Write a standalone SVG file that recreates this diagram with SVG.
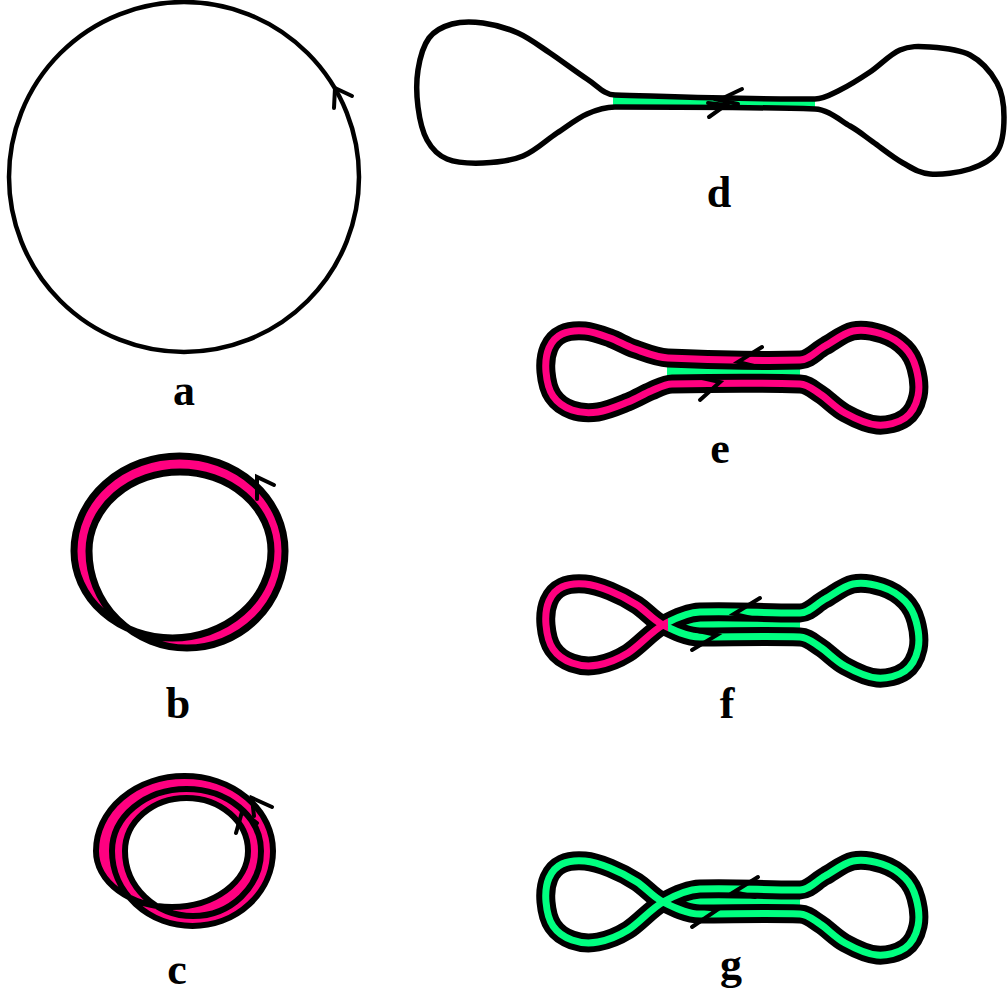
<svg xmlns="http://www.w3.org/2000/svg" xmlns:xlink="http://www.w3.org/1999/xlink" width="1008" height="998" viewBox="0 0 1008 998">
<style>
.ln{fill:none;stroke:#000;stroke-linejoin:round;stroke-linecap:round}
.arr{fill:none;stroke:#000;stroke-width:4;stroke-linejoin:miter;stroke-linecap:round}
.lbl{font-family:"Liberation Serif","Times New Roman",serif;font-weight:bold;font-size:44px;text-anchor:middle;fill:#000}
.pk{fill:#FF0080}
.gr{fill:#00FF80}
.bk{fill:none;stroke:#000;stroke-width:19;stroke-linejoin:round}
.bp{fill:none;stroke:#FF0080;stroke-width:7;stroke-linejoin:round}
.bg{fill:none;stroke:#00FF80;stroke-width:7;stroke-linejoin:round}
</style>
<defs>
<path id="eShape" d="M800,360 C756,361.3 712,359.8 668,358 C656.6,357.5 644.7,352.3 635,349 C625.3,345.7 618.3,341 610,338 C601.7,335 593,331.7 585,331 C577,330.3 568,331.2 562,334 C556,336.8 551.7,341.7 549,348 C546.3,354.3 545.3,364 546,372 C546.7,380 548.7,389.7 553,396 C557.3,402.3 564.5,407.3 572,410 C579.5,412.7 588.7,413.3 598,412 C607.3,410.7 619.2,405.5 628,402 C636.8,398.5 643.7,394 651,391 C658.3,388 664.7,384.1 672,384 C714.7,383.1 757.3,382.7 800,384 C807.5,384.2 812.5,389.2 820,394 C827.5,398.8 835.5,407.8 845,413 C854.5,418.2 867,424.2 877,425 C887,425.8 898.2,422.8 905,418 C911.8,413.2 916.2,404.3 918,396 C919.8,387.7 918.2,376 916,368 C913.8,360 910.7,353.7 905,348 C899.3,342.3 890.7,336.8 882,334 C873.3,331.2 862.5,329 853,331 C843.5,333 833.8,341.2 825,346 C816.2,350.8 809.6,359.7 800,360 Z"/>
<path id="fgShape" d="M800,360 C767,360.3 733,357.7 700,359 C687,359.5 675,365.2 663,372 C651,378.8 638.8,393.3 628,400 C617.2,406.7 607.3,410.3 598,412 C588.7,413.7 579.5,412.7 572,410 C564.5,407.3 557.3,402.3 553,396 C548.7,389.7 546.7,380 546,372 C545.3,364 546.3,354.3 549,348 C551.7,341.7 556,336.8 562,334 C568,331.2 577,330.3 585,331 C593,331.7 601.3,334.5 610,338 C618.7,341.5 628.2,346.3 637,352 C645.8,357.7 652.5,366.7 663,372 C673.5,377.3 687,384 700,384 C733,384 767,383 800,384 C807.5,384.2 812.5,389.2 820,394 C827.5,398.8 835.5,407.8 845,413 C854.5,418.2 867,424.2 877,425 C887,425.8 898.2,422.8 905,418 C911.8,413.2 916.2,404.3 918,396 C919.8,387.7 918.2,376 916,368 C913.8,360 910.7,353.7 905,348 C899.3,342.3 890.7,336.8 882,334 C873.3,331.2 862.5,329 853,331 C843.5,333 833.8,341.2 825,346 C816.2,350.8 809.6,359.7 800,360 Z"/>
<clipPath id="clipL" clipPathUnits="userSpaceOnUse"><rect x="0" y="0" width="668" height="998"/></clipPath>
<clipPath id="clipR" clipPathUnits="userSpaceOnUse"><rect x="668" y="0" width="340" height="998"/></clipPath>
</defs>

<g id="fig-a">
<circle cx="184" cy="177" r="175" class="ln" stroke-width="4.5"/>
<path class="arr" d="M352,96 L335,88 L334,108"/>
<text class="lbl" x="184" y="405">a</text>
</g>

<g id="fig-b">
<path class="pk" fill-rule="evenodd" d="M74,551 A105.5 95 0 0 1 285,551 A98 97 0 0 1 89,551 A91 79 0 0 1 271,551 A98.5 87 0 0 1 74,551 Z"/>
<path class="ln" stroke-width="7" d="M74,551 A105.5 95 0 0 1 285,551 A98 97 0 0 1 89,551 A91 79 0 0 1 271,551 A98.5 87 0 0 1 74,551 Z"/>
<path class="arr" d="M274,485 L257,477 L257,499"/>
<text class="lbl" x="178" y="718">b</text>
</g>

<g id="fig-c">
<path class="pk" d="M96,851 A88.5 75 0 0 1 273,851 A80.5 75 0 0 1 112,851 A74.5 62 0 0 1 261,851 A68 65 0 0 1 125,851 A61.5 53 0 0 1 248,851 A76 56 0 0 1 96,851 Z"/>
<path fill="#fff" d="M125,851 A61.5 53 0 0 1 248,851 A76 56 0 0 1 155,905.4 A68 65 0 0 1 125,851 Z"/>
<path class="ln" stroke-width="6" d="M96,851 A88.5 75 0 0 1 273,851 A80.5 75 0 0 1 112,851 A74.5 62 0 0 1 261,851 A68 65 0 0 1 125,851 A61.5 53 0 0 1 248,851 A76 56 0 0 1 96,851 Z"/>
<path class="arr" d="M272,807 L252,798 L254,816"/>
<path class="arr" d="M257,823 L242,812 L236,833"/>
<text class="lbl" x="177" y="984">c</text>
</g>

<g id="fig-d">
<polygon class="gr" points="613,95 815,99 815,109 613,107"/>
<path class="ln" stroke-width="5.5" d="M815,99 C748,99.7 682,97 615,95 C604.3,94.7 597.8,86 587,79 C576.2,72 561.5,60.7 550,53 C538.5,45.3 529.2,38 518,33 C506.8,28 494,24.5 483,23 C472,21.5 461,21.5 452,24 C443,26.5 434.7,30.3 429,38 C423.3,45.7 419.8,58.5 418,70 C416.2,81.5 416.5,95.3 418,107 C419.5,118.7 422.2,131.3 427,140 C431.8,148.7 437.7,155.2 447,159 C456.3,162.8 470.3,163.5 483,163 C495.7,162.5 510.7,161 523,156 C535.3,151 546.3,140 557,133 C567.7,126 577.3,118.3 587,114 C596.7,109.7 605.4,107 615,107 C682,107 748,107 815,109 C828,109.4 840.3,120.5 850,126 C859.7,131.5 864.2,135.8 873,142 C881.8,148.2 893.5,157.7 903,163 C912.5,168.3 918.8,173 930,174 C941.2,175 958.8,172.7 970,169 C981.2,165.3 991.3,160.7 997,152 C1002.7,143.3 1004,128.5 1004,117 C1004,105.5 1002.7,93.3 997,83 C991.3,72.7 981.2,61 970,55 C958.8,49 941.7,47.8 930,47 C918.3,46.2 910,45.8 900,50 C890,54.2 880,65.3 870,72 C860,78.7 849.2,85.5 840,90 C830.8,94.5 823.9,98.9 815,99 Z"/>
<path class="arr" stroke-width="3.5" d="M742,89 L719,100 L738,104"/>
<path class="arr" stroke-width="3.5" d="M709,117 L726,105 L708,103"/>
<text class="lbl" x="719" y="207">d</text>
</g>

<g id="fig-e">
<rect class="gr" x="667" y="362" width="133" height="20"/>
<use xlink:href="#eShape" href="#eShape" class="bk"/>
<use xlink:href="#eShape" href="#eShape" class="bp"/>
<path class="arr" d="M762,347 L738,362 L758,367"/>
<path class="arr" d="M700,400 L720,382 L702,378"/>
<text class="lbl" x="720" y="463">e</text>
</g>

<g id="fig-f">
<g transform="translate(0,253)">
<rect class="gr" x="663" y="362" width="137" height="20"/>
<use xlink:href="#fgShape" href="#fgShape" class="bk"/>
<use xlink:href="#fgShape" href="#fgShape" class="bg" clip-path="url(#clipR)"/>
<use xlink:href="#fgShape" href="#fgShape" class="bp" clip-path="url(#clipL)"/>
</g>
<path class="arr" d="M760,598 L734,614 L756,619"/>
<path class="arr" d="M692,650 L717,635 L698,631"/>
<text class="lbl" x="727" y="718">f</text>
</g>

<g id="fig-g">
<g transform="translate(0,530)">
<rect class="gr" x="663" y="362" width="137" height="20"/>
<use xlink:href="#fgShape" href="#fgShape" class="bk"/>
<use xlink:href="#fgShape" href="#fgShape" class="bg"/>
</g>
<path class="arr" d="M758,877 L734,892 L755,897"/>
<path class="arr" d="M692,927 L717,910 L698,907"/>
<text class="lbl" x="731" y="979">g</text>
</g>

<g id="connectors"></g>
</svg>
